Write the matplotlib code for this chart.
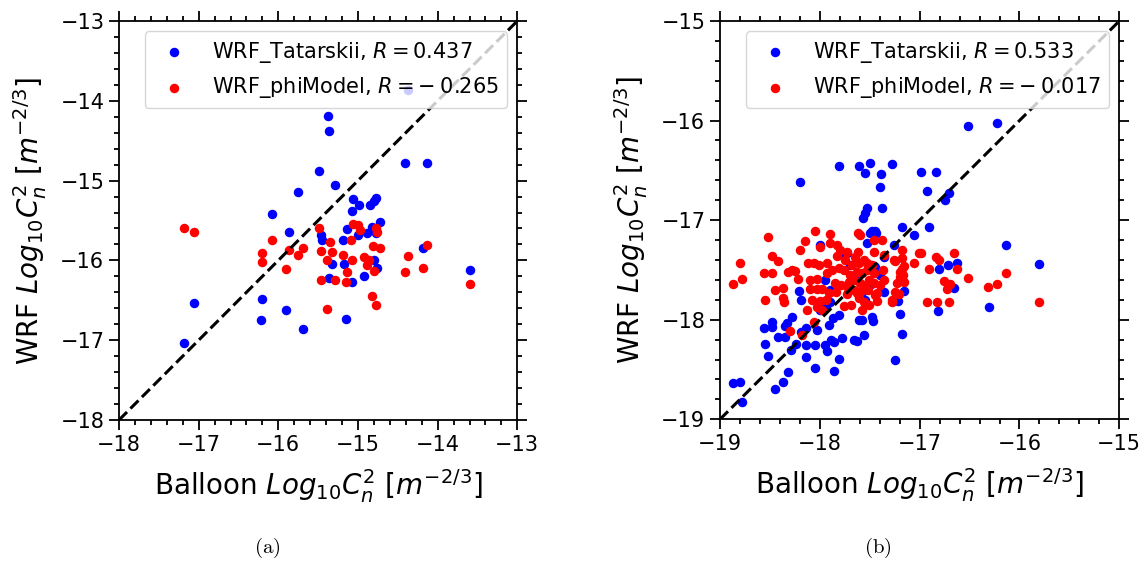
import matplotlib
matplotlib.use("Agg")
import matplotlib.pyplot as plt
from matplotlib.ticker import AutoMinorLocator, MultipleLocator

# ---------------- Data: panel (a) ----------------
a_tat_x = [-14.37, -15.38, -15.36, -14.41, -14.13, -15.49, -15.29, -15.75, -15.06, -14.77,
           -14.80, -14.99, -14.85, -15.07, -16.08, -14.72, -14.83, -15.14, -15.87, -15.46,
           -14.89, -15.00, -14.77, -15.45, -15.19, -14.19, -14.80, -15.32, -15.18, -14.76,
           -13.60, -14.92, -15.37, -15.07, -17.06, -16.21, -15.90, -16.22, -15.15, -15.69,
           -17.18]
a_tat_y = [-13.86, -14.19, -14.38, -14.78, -14.78, -14.88, -15.06, -15.14, -15.23, -15.22,
           -15.26, -15.31, -15.31, -15.38, -15.42, -15.52, -15.58, -15.61, -15.64, -15.68,
           -15.66, -15.68, -15.66, -15.75, -15.75, -15.84, -15.99, -16.05, -16.04, -16.10,
           -16.12, -16.20, -16.22, -16.27, -16.53, -16.48, -16.62, -16.75, -16.73, -16.86,
           -17.03]
a_phi_x = [-17.18, -17.06, -15.49, -15.06, -15.00, -14.98, -14.77, -14.76, -16.08, -15.35,
           -15.09, -16.21, -15.87, -15.69, -15.46, -15.33, -14.81, -14.72, -14.13, -15.75,
           -15.19, -14.37, -16.21, -15.39, -15.08, -14.92, -14.86, -14.89, -15.90, -15.14,
           -14.80, -14.41, -14.19, -15.46, -15.29, -15.15, -13.60, -14.83, -14.77, -15.39]
a_phi_y = [-15.60, -15.64, -15.60, -15.55, -15.56, -15.62, -15.60, -15.64, -15.74, -15.77,
           -15.74, -15.91, -15.87, -15.85, -15.88, -15.90, -15.82, -15.84, -15.81, -15.93,
           -15.93, -15.94, -16.02, -15.99, -16.00, -15.96, -16.00, -16.06, -16.11, -16.14,
           -16.13, -16.15, -16.10, -16.25, -16.25, -16.27, -16.30, -16.45, -16.56, -16.61]

# ---------------- Data: panel (b) ----------------
b_tat_x = [-16.52, -16.23, -17.81, -17.61, -17.50, -17.28, -17.55, -17.39, -18.20, -16.99,
           -16.84, -17.40, -16.93, -16.71, -16.75, -17.38, -17.53, -17.55, -17.57, -17.18,
           -16.91, -17.06, -17.50, -17.44, -17.26, -16.13, -15.80, -16.72, -16.63, -16.81,
           -17.36, -17.46, -17.16, -17.22, -16.66, -16.82, -16.31, -17.20, -17.73, -17.53,
           -17.48, -17.45, -18.00,
           -18.78, -18.87, -18.80, -18.45, -18.37, -18.32, -18.52, -18.55, -18.56, -18.48,
           -18.48, -18.42, -18.35, -18.35, -18.33, -18.28, -18.29, -18.24, -18.19, -18.14,
           -18.14, -18.14, -18.05, -18.03, -18.05, -17.95, -17.93, -17.89, -17.86, -17.78,
           -17.81, -17.86, -17.91, -17.87, -17.81, -18.00, -17.94, -17.90, -18.19, -18.21,
           -17.90, -17.66, -17.63, -17.56, -17.61, -17.58, -17.48, -17.47, -17.25, -17.18,
           -17.55, -17.77, -17.45, -17.49, -17.58, -17.36, -17.65, -17.70, -17.95, -17.40]
b_tat_y = [-16.05, -16.02, -16.46, -16.46, -16.43, -16.44, -16.53, -16.54, -16.62, -16.52,
           -16.52, -16.67, -16.71, -16.73, -16.80, -16.88, -16.88, -16.93, -16.98, -17.07,
           -17.07, -17.15, -17.13, -17.13, -17.25, -17.25, -17.44, -17.45, -17.43, -17.49,
           -17.37, -17.46, -17.71, -17.81, -17.68, -17.91, -17.87, -17.94, -17.33, -17.23,
           -17.11, -17.11, -17.25,
           -18.83, -18.64, -18.63, -18.70, -18.63, -18.52, -18.36, -18.24, -18.08, -18.07,
           -18.02, -18.17, -18.17, -18.06, -18.03, -17.97, -18.30, -18.24, -18.12, -18.08,
           -18.25, -18.37, -18.25, -18.10, -18.48, -18.25, -18.31, -18.20, -18.22, -18.18,
           -18.39, -18.51, -18.05, -17.98, -17.95, -17.90, -17.87, -17.82, -17.80, -17.71,
           -17.70, -18.20, -18.21, -18.15, -18.00, -18.00, -17.97, -18.01, -18.40, -18.14,
           -17.80, -17.33, -17.47, -17.64, -17.72, -17.72, -17.55, -17.45, -17.60, -17.55]
b_phi_x = [-18.87, -18.78, -18.80, -18.52, -18.48, -18.42, -18.56, -18.48, -18.55, -18.45,
           -18.37, -18.37, -18.36, -18.32, -18.28, -18.25, -18.22, -18.20, -18.15, -18.05,
           -18.12, -18.06, -18.01, -17.93, -17.90, -17.90, -17.83, -17.80, -17.83, -18.10,
           -18.03, -18.10, -18.03, -17.98, -18.08, -18.00, -17.94, -18.03, -17.98, -18.13,
           -18.06, -18.30, -18.18,
           -17.93, -17.88, -17.81, -17.76, -17.85, -17.79, -17.71, -17.91, -17.84, -17.73,
           -17.76, -17.69, -17.66, -17.63, -17.60, -17.61, -17.56, -17.51, -17.60, -17.65,
           -17.61, -17.56, -17.53, -17.63, -17.58, -17.53, -17.66, -17.60, -17.51, -17.46,
           -17.46, -17.43, -17.38, -17.37, -17.36, -17.45, -17.43, -17.28, -17.26, -17.25,
           -17.18, -17.18, -17.18, -17.20, -17.16, -17.06, -17.36, -17.01,
           -17.62, -17.46, -17.73, -17.62, -17.46, -18.00,
           -16.84, -16.81, -16.66, -16.91, -16.63, -16.52, -16.76, -16.70, -16.73, -16.32,
           -16.23, -16.13, -15.80, -16.93, -16.83, -16.71, -17.28, -17.21, -17.23, -17.25,
           -17.16, -17.20, -17.17, -16.99,
           -17.70, -17.55, -17.48, -17.75, -17.40, -17.58, -17.68, -17.52, -17.72]
b_phi_y = [-17.64, -17.59, -17.43, -17.17, -17.36, -17.41, -17.53, -17.53, -17.80, -17.70,
           -17.68, -17.78, -17.82, -17.52, -17.50, -17.51, -17.59, -17.30, -17.21, -17.11,
           -17.43, -17.43, -17.45, -17.43, -17.14, -17.23, -17.25, -17.30, -17.36, -17.60,
           -17.59, -17.69, -17.69, -17.69, -17.80, -17.81, -17.80, -17.87, -17.90, -17.90,
           -18.02, -18.11, -18.15,
           -17.53, -17.50, -17.48, -17.50, -17.63, -17.65, -17.62, -17.73, -17.72, -17.74,
           -17.86, -17.85, -17.70, -17.73, -17.72, -17.78, -17.82, -17.85, -17.15, -17.37,
           -17.43, -17.40, -17.43, -17.52, -17.53, -17.50, -17.60, -17.63, -17.60, -17.53,
           -17.63, -17.73, -17.20, -17.50, -17.60, -17.75, -17.81, -17.80, -17.40, -17.72,
           -17.30, -17.38, -17.49, -17.57, -17.62, -17.43, -17.35, -17.33,
           -17.13, -17.20, -17.32, -17.32, -17.32, -17.27,
           -17.37, -17.40, -17.33, -17.49, -17.49, -17.58, -17.61, -17.64, -17.69, -17.67,
           -17.64, -17.53, -17.82, -17.82, -17.82, -17.82, -17.82, -17.74, -17.63, -17.41,
           -17.46, -17.52, -17.55, -17.33,
           -17.55, -17.65, -17.45, -17.40, -17.65, -17.90, -17.45, -17.70, -17.68]

r_a = ["0.437", r"-\:0.265"]
r_b = ["0.533", r"-\:0.017"]
lims_a = [-18, -13]
lims_b = [-19, -15]
captions = [r"$\mathrm{(a)}$", r"$\mathrm{(b)}$"]

plt.rcParams['mathtext.fontset'] = 'dejavusans'
fig = plt.figure(figsize=(11.45, 5.62), dpi=100)
ax1 = fig.add_axes([119/1145, 1-420/562, 398.3/1145, 399/562])
ax2 = fig.add_axes([720/1145, 1-419.3/562, 399.3/1145, 398.3/562])

label_x = r"Balloon $Log_{10}C_n^2$ $[m^{-2/3}]$"
label_y = r"WRF $Log_{10}C_n^2$ $[m^{-2/3}]$"

panels = [
    (ax1, a_tat_x, a_tat_y, a_phi_x, a_phi_y, r_a, lims_a),
    (ax2, b_tat_x, b_tat_y, b_phi_x, b_phi_y, r_b, lims_b),
]
for ax, tx, ty, px, py, rr, lim in panels:
    ax.scatter(tx, ty, s=34, color='blue', label=r"WRF_Tatarskii, $R = %s$" % rr[0], zorder=2)
    ax.scatter(px, py, s=34, color='red', label=r"WRF_phiModel, $R = %s$" % rr[1], zorder=2)
    ax.plot(lim, lim, 'k--', lw=2.2, zorder=3)
    ax.set_xlim(lim)
    ax.set_ylim(lim)
    ax.xaxis.set_major_locator(MultipleLocator(1))
    ax.yaxis.set_major_locator(MultipleLocator(1))
    ax.xaxis.set_minor_locator(AutoMinorLocator(5))
    ax.yaxis.set_minor_locator(AutoMinorLocator(5))
    ax.tick_params(which='both', direction='out', top=True, right=True, width=1.3)
    ax.tick_params(which='major', length=7, labelsize=15)
    ax.tick_params(which='minor', length=3.8)
    for sp in ax.spines.values():
        sp.set_linewidth(1.3)
    ax.set_xlabel(label_x, fontsize=20, labelpad=9)
    ax.set_ylabel(label_y, fontsize=20, labelpad=8)
    ax.legend(loc='upper right', fontsize=15, scatterpoints=1)

for cx, cap in zip([267, 878], captions):
    fig.text(cx/1145, 1-548/562, cap, fontsize=15, ha='center', va='center',
             math_fontfamily='cm')

fig.savefig("out.png", dpi=100)
